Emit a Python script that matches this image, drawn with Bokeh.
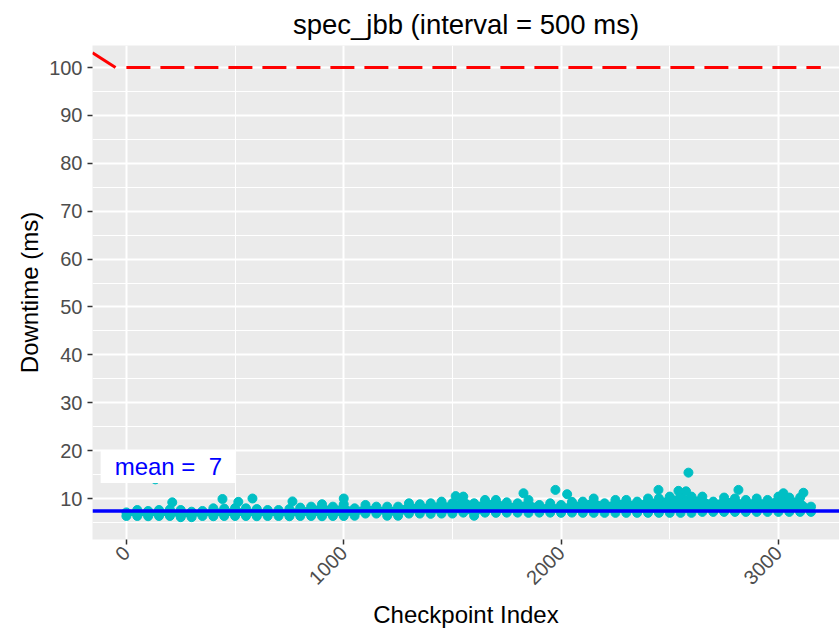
import math
from bokeh.plotting import figure
from bokeh.models import FixedTicker, Range1d, Label, Span
from bokeh.embed import file_html
from bokeh.resources import INLINE

# ---- data ----
ckpt_x = list(range(0, 3151, 50))
band_upper = [7.1, 7.6, 7.4, 7.6, 7.7, 7.6, 7.25, 7.4, 7.95, 7.9,
              8.0, 7.95, 7.8, 7.6, 7.6, 7.8, 8.1, 8.3, 8.8, 8.3,
              8.8, 7.95, 8.65, 8.3, 8.3, 8.3, 9.0, 8.8, 9.0, 9.35,
              9.0, 10.4, 9.0, 9.7, 9.7, 9.2, 9.0, 9.7, 8.65, 9.0,
              8.65, 9.3, 9.35, 10.0, 9.0, 9.7, 9.7, 9.35, 10.0, 10.0,
              10.4, 10.8, 10.4, 10.4, 9.35, 10.2, 10.0, 9.7, 10.0, 9.7,
              10.4, 10.2, 10.2, 8.3]
band_lower = [6.35, 6.35, 6.3, 6.35, 6.35, 6.1, 6.1, 6.35, 6.3, 6.35,
              6.35, 6.35, 6.3, 6.35, 6.35, 6.3, 6.35, 6.35, 6.3, 6.35,
              6.35,
              6.4, 6.85, 6.85, 6.4, 6.4, 6.85, 6.85, 6.8, 6.85, 6.85,
              7.05, 6.4, 7.05, 7.0, 7.05, 7.05, 7.0, 7.05, 7.05, 7.0, 7.05,
              7.0, 7.0, 7.0, 7.0, 7.0, 7.0, 7.0, 7.0, 7.0, 7.0, 7.0,
              7.2, 7.2, 7.2, 7.2, 7.2, 7.2, 7.2, 7.2, 7.2, 7.2, 7.2]
outlier_x = [133, 211, 442, 515, 580, 764, 1000, 1515, 1827, 1974, 2028,
             2448, 2540, 2575, 2586, 2816, 3023, 3115]
outlier_y = [14.0, 9.2, 9.9, 9.3, 10.0, 9.4, 10.0, 10.5, 11.1, 11.8, 10.9,
             11.8, 11.6, 11.5, 15.4, 11.8, 11.1, 11.2]
mean_downtime = 7.4
mean_text = "mean = \u00a07"
mean_label_x = 193
mean_label_y = 16.7
limit_x = [0, 3195]
limit_y = [100, 100]
lead_x = [-156, -50]
lead_y = [103.1, 100]
x_ticks = [0, 1000, 2000, 3000]
x_minor = [500, 1500, 2500]
y_ticks = [10, 20, 30, 40, 50, 60, 70, 80, 90, 100]
y_minor = [5, 15, 25, 35, 45, 55, 65, 75, 85, 95]

FONT = "Liberation Sans"
PT = "#00BFC4"

p = figure(width=839, height=630, output_backend="svg", toolbar_location=None,
           x_range=Range1d(-156, 3281), y_range=Range1d(1.44, 104.6),
           min_border_left=92, min_border_right=0, min_border_top=45,
           min_border_bottom=91)
p.background_fill_color = "#EBEBEB"
p.border_fill_color = "white"
p.outline_line_color = None

p.title.text = "spec_jbb (interval = 500 ms)"
p.title.align = "center"
p.title.text_font = FONT
p.title.text_font_size = "27.5px"
p.title.text_font_style = "normal"
p.title.text_color = "black"
p.title.standoff = 12

for g in (p.xgrid, p.ygrid):
    g.grid_line_color = "white"
    g.grid_line_width = 2
    g.minor_grid_line_color = "white"
    g.minor_grid_line_width = 1

p.xaxis.ticker = FixedTicker(ticks=x_ticks, minor_ticks=x_minor)
p.yaxis.ticker = FixedTicker(ticks=y_ticks, minor_ticks=y_minor)
for ax in (p.xaxis, p.yaxis):
    ax.axis_line_color = None
    ax.minor_tick_line_color = None
    ax.major_tick_in = 0
    ax.major_tick_out = 5
    ax.major_tick_line_color = "#333333"
    ax.major_tick_line_width = 1.5
    ax.major_label_text_font = FONT
    ax.major_label_text_font_size = "20px"
    ax.major_label_text_color = "#4D4D4D"
    ax.axis_label_text_font = FONT
    ax.axis_label_text_font_size = "24px"
    ax.axis_label_text_font_style = "normal"
    ax.axis_label_text_color = "black"
p.xaxis.axis_label = "Checkpoint Index"
p.yaxis.axis_label = "Downtime (ms)"
p.xaxis.major_label_orientation = math.pi / 4
p.xaxis.axis_label_standoff = 7
p.yaxis.major_label_standoff = 5
p.yaxis.axis_label_standoff = 3

p.line(lead_x, lead_y, line_color="red", line_width=3)
p.line(limit_x, limit_y, line_color="red", line_width=3, line_dash="24 10")

p.varea(x=ckpt_x, y1=band_lower, y2=band_upper, fill_color=PT)
p.scatter(ckpt_x, band_upper, size=9, color=PT)
p.scatter(ckpt_x, band_lower, size=9, color=PT)
p.scatter(outlier_x, outlier_y, size=9, color=PT)

p.add_layout(Span(location=mean_downtime, dimension="width",
                  line_color="blue", line_width=3.5))
p.add_layout(Label(x=mean_label_x, y=mean_label_y, text=mean_text,
                   text_align="center", text_baseline="middle",
                   text_font=FONT, text_font_size="24px", text_color="blue",
                   background_fill_color="white", padding=(14, 3)))

open("out.html", "w").write(file_html(p, INLINE))
